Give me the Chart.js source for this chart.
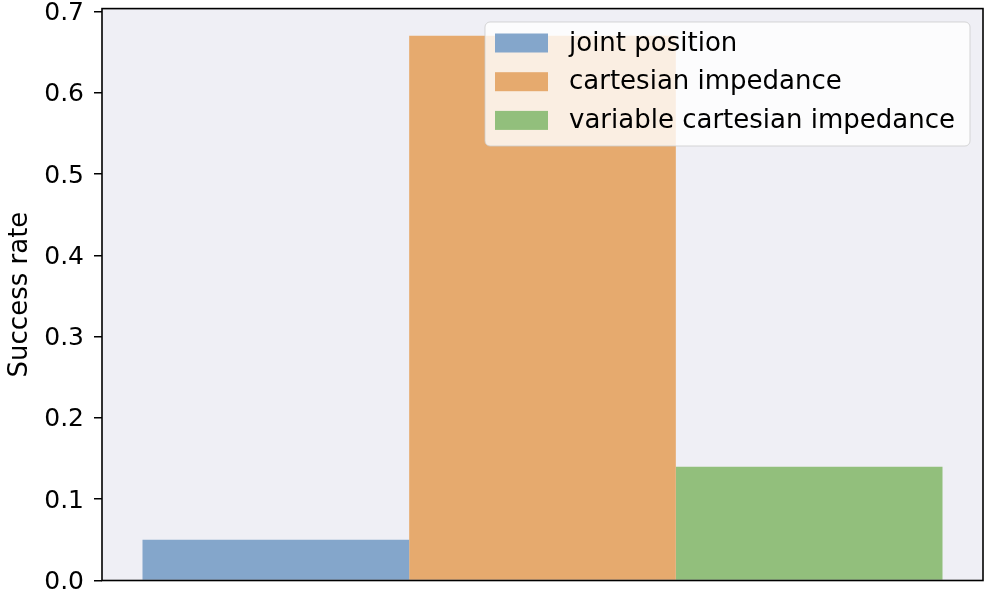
<!DOCTYPE html>
<html>
<head>
<meta charset="utf-8">
<script src="https://cdn.jsdelivr.net/npm/chart.js@4.4.0/dist/chart.umd.min.js"></script>
<style>
html,body{margin:0;padding:0;background:#fff;}
#wrap{width:990px;height:596px;position:relative;}
</style>
</head>
<body>
<div id="wrap"><canvas id="c" width="990" height="596"></canvas></div>
<script>
const categories = [''];
const seriesNames = ['joint position', 'cartesian impedance', 'variable cartesian impedance'];
const seriesValues = [[0.05], [0.67], [0.14]];
const seriesColors = ['#84a6cb', '#e6aa6e', '#92bf7c'];
const yTicks = [0, 0.1, 0.2, 0.3, 0.4, 0.5, 0.6, 0.7];
const yMax = 0.7035;
const FONT = 'DejaVu Sans';
const FS = 26;

const bgPlugin = {
  id: 'bgPlugin',
  beforeDatasetsDraw(chart) {
    const {ctx, chartArea: a} = chart;
    ctx.save();
    ctx.fillStyle = '#efeff5';
    ctx.fillRect(a.left, a.top, a.right - a.left, a.bottom - a.top);
    ctx.restore();
  },
  afterDatasetsDraw(chart) {
    const {ctx, chartArea: a} = chart;
    ctx.save();
    ctx.strokeStyle = '#000';
    ctx.lineWidth = 1.6;
    ctx.strokeRect(a.left, a.top, a.right - a.left, a.bottom - a.top);
    ctx.restore();
  },
  afterDraw(chart) {
    const {ctx} = chart;
    const x0 = 485, y0 = 22, w = 485, h = 124, r = 5;
    ctx.save();
    ctx.globalAlpha = 0.8;
    ctx.fillStyle = '#ffffff';
    ctx.beginPath();
    ctx.roundRect(x0, y0, w, h, r);
    ctx.fill();
    ctx.globalAlpha = 1;
    ctx.strokeStyle = 'rgba(204,204,204,0.8)';
    ctx.lineWidth = 1;
    ctx.stroke();
    ctx.font = FS + 'px "' + FONT + '"';
    ctx.textBaseline = 'middle';
    chart.data.datasets.forEach((ds, i) => {
      const cy = 43 + i * 38.7;
      ctx.fillStyle = ds.backgroundColor;
      ctx.fillRect(495, cy - 9.5, 53, 19);
      ctx.fillStyle = '#000';
      ctx.fillText(ds.label, 569, cy + 1);
    });
    ctx.restore();
  }
};

new Chart(document.getElementById('c'), {
  type: 'bar',
  data: {
    labels: categories,
    datasets: seriesNames.map((n, i) => ({
      label: n,
      data: seriesValues[i],
      backgroundColor: seriesColors[i],
      borderWidth: 0,
      barPercentage: 1,
      categoryPercentage: 800 / 881
    }))
  },
  options: {
    responsive: false,
    animation: false,
    devicePixelRatio: 1,
    layout: {padding: {left: 0, top: 8.6, right: 7, bottom: 15.5}},
    plugins: {legend: {display: false}, tooltip: {enabled: false}},
    scales: {
      x: {
        display: true,
        grid: {display: false},
        border: {display: false},
        ticks: {display: false},
        afterFit(s) { s.height = 0; s.paddingLeft = 0; s.paddingRight = 0; }
      },
      y: {
        min: 0,
        max: yMax,
        afterFit(s) { s.width = 102; s.paddingTop = 0; s.paddingBottom = 0; },
        afterBuildTicks(s) { s.ticks = yTicks.map(v => ({value: v})); },
        border: {display: false},
        grid: {display: true, drawOnChartArea: false, drawTicks: true, tickLength: 8, color: '#000', lineWidth: 1.5},
        ticks: {
          color: '#000',
          padding: 10,
          labelOffset: 2,
          font: {family: FONT, size: 25},
          callback: v => Number(v).toFixed(1)
        },
        title: {
          display: true,
          text: 'Success rate',
          color: '#000',
          font: {family: FONT, size: FS},
          padding: {top: 5, bottom: 0}
        }
      }
    }
  },
  plugins: [bgPlugin]
});
</script>
</body>
</html>
